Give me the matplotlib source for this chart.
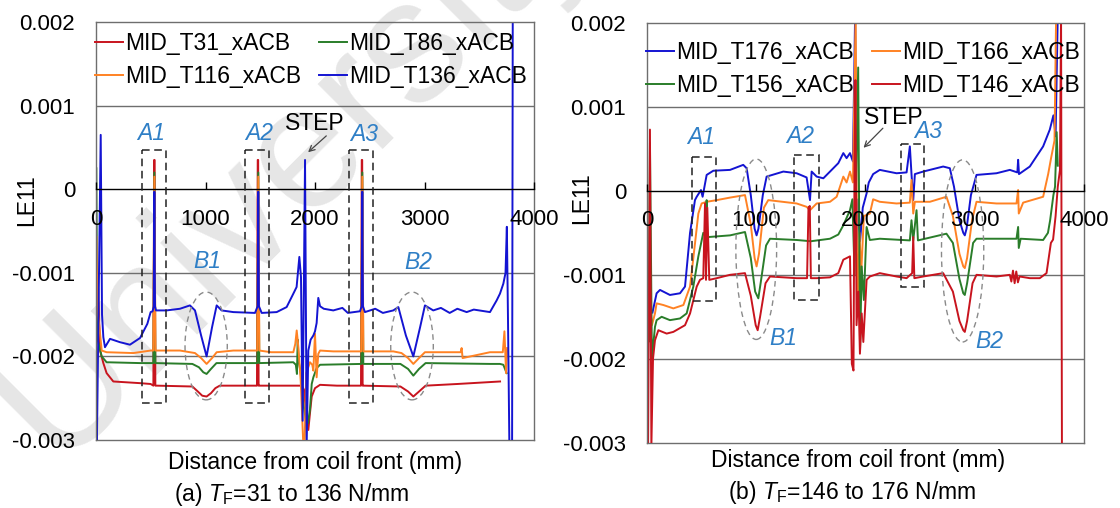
import numpy as np
import matplotlib
matplotlib.use("Agg")
import matplotlib.pyplot as plt
from matplotlib.patches import Rectangle, Ellipse

plt.rcParams['font.family'] = ['Liberation Sans', 'DejaVu Sans']
plt.rcParams['mathtext.fontset'] = 'custom'
plt.rcParams['mathtext.rm'] = 'Liberation Sans'
plt.rcParams['mathtext.it'] = 'Liberation Sans:italic'

MILLI = 1e-3  # strain values below are listed in units of 0.001

# ---------------- Panel (a) ----------------
a_t31_x = [20, 37, 67, 97, 158, 402, 499, 524, 531, 535, 542, 560, 880, 930, 970, 1010, 1050, 1090, 1130,
           1470, 1477, 1481, 1485, 1492, 1880, 1900, 1920, 1939, 1954, 1970, 2000, 2046, 2200,
           2420, 2427, 2431, 2435, 2442, 2780, 2850, 2898, 2950, 3010, 3300, 3690]
a_t31_y = [-1.2, -1.93, -2.08, -2.20, -2.30, -2.32, -2.33, -2.35, 0.35, 0.35, -2.35, -2.35, -2.36, -2.42, -2.47, -2.48, -2.44, -2.38, -2.35,
           -2.35, 0.35, 0.35, -2.35, -2.35, -2.35, -2.40, -2.70, -2.88, -2.68, -2.48, -2.38, -2.34, -2.35,
           -2.35, 0.35, 0.35, -2.35, -2.35, -2.36, -2.42, -2.48, -2.42, -2.35, -2.33, -2.30]

a_t86_x = [3, 8, 15, 52, 97, 402, 524, 533, 542, 880, 940, 980, 1010, 1050, 1100,
           1473, 1482, 1491, 1802, 1825, 1835, 1842, 1850, 1870, 1893, 1915, 1935, 1954, 1970, 1985, 2015, 2046,
           2423, 2432, 2441, 2780, 2850, 2898, 2950, 3010, 3600, 3689, 3720, 3750]
a_t86_y = [0.25, -1.0, -1.8, -2.00, -2.07, -2.08, -2.08, 0.20, -2.08, -2.09, -2.13, -2.19, -2.21, -2.15, -2.08,
           -2.08, 0.20, -2.08, -2.07, -2.10, -2.21, -1.80, -2.05, -2.20, -2.56, -2.75, -2.80, -2.64, -2.33, -2.25, -2.14, -2.10,
           -2.09, 0.20, -2.09, -2.09, -2.15, -2.23, -2.15, -2.08, -2.09, -2.09, -2.10, -2.20]

a_t116_x = [4, 8, 20, 52, 97, 341, 499, 523, 533, 543, 560, 767, 904, 960, 1010, 1060, 1102, 1254,
            1472, 1482, 1492, 1600, 1802, 1820, 1833, 1848, 1870, 1893, 1905, 1920, 1954, 1975, 1985, 2000, 2015, 2030, 2046,
            2167, 2422, 2432, 2442, 2715, 2790, 2850, 2898, 2950, 3004, 3330, 3339, 3348, 3598, 3715, 3730, 3745, 3755]
a_t116_y = [-0.57, -0.97, -1.5, -1.93, -1.95, -1.96, -1.93, -1.93, 0.15, -1.93, -1.93, -1.93, -1.96, -2.02, -2.09, -2.02, -1.95, -1.93,
            -1.93, 0.15, -1.93, -1.95, -1.95, -1.85, -1.69, -1.89, -2.30, -3.05, -3.05, -2.20, -2.07, -2.10, -2.17, -1.73, -2.25, -1.97, -1.93,
            -1.94, -1.94, 0.15, -1.94, -1.94, -1.96, -2.02, -2.09, -2.02, -1.95, -1.95, -1.90, -2.02, -1.95, -1.95, -1.70, -2.20, -1.90]

a_t136_x = [3, 8, 43, 55, 67, 82, 128, 219, 310, 402, 469, 499, 517, 527, 533, 539, 548, 645, 767, 858, 904,
            960, 1010, 1060, 1102, 1147, 1254, 1452, 1476, 1482, 1488, 1513, 1650, 1741, 1802, 1832, 1857, 1872,
            1887, 1909, 1924, 1939, 1960, 1985, 2000, 2015, 2030, 2046, 2080, 2167, 2250, 2300, 2411, 2426, 2432, 2438, 2456,
            2550, 2620, 2715, 2761, 2830, 2898, 2960, 3004, 3080, 3150, 3230, 3300, 3385, 3450, 3598, 3659, 3689, 3720, 3740,
            3752, 3762, 3775, 3800, 3806]
a_t136_y = [-2.0, -3.05, 0.65, -1.50, -1.77, -1.89, -1.79, -1.83, -1.86, -1.78, -1.61, -1.47, -1.46, -1.40, -0.03, -1.40, -1.45, -1.45, -1.43, -1.39, -1.45,
            -1.75, -2.00, -1.65, -1.39, -1.45, -1.47, -1.48, -1.40, -0.03, -1.40, -1.48, -1.47, -1.41, -1.25, -1.17, -0.81, -1.05,
            -2.77, 0.35, -3.05, -1.93, -1.80, -1.75, -1.70, -1.60, -1.30, -1.40, -1.43, -1.45, -1.42, -1.48, -1.46, -1.40, -0.03, -1.40, -1.47,
            -1.43, -1.48, -1.45, -1.41, -1.75, -2.00, -1.65, -1.39, -1.45, -1.42, -1.48, -1.43, -1.47, -1.44, -1.47, -1.33, -1.25, -1.13, -1.00,
            -0.45, -1.50, -3.05, -3.05, 2.10]

# ---------------- Panel (b) ----------------
b_t176_x = [50, 88, 119, 210, 302, 348, 394, 439, 455, 494, 509, 546, 607, 760, 881, 912, 950, 985, 1003, 1020, 1060, 1095,
            1248, 1370, 1461, 1492, 1507, 1553, 1614, 1675, 1751, 1797, 1827, 1858, 1885, 1905, 1918, 1935, 1950, 1975,
            2010, 2030, 2070, 2131, 2284, 2376, 2406, 2421, 2437, 2452, 2528, 2711, 2772, 2810, 2860, 2895, 2909, 2925,
            2965, 3016, 3199, 3321, 3390, 3397, 3405, 3504, 3626, 3687, 3720, 3740, 3760]
b_t176_y = [-1.45, -1.22, -1.18, -1.24, -1.22, -1.14, -0.50, -0.11, -0.07, 0.01, -0.07, 0.19, 0.24, 0.25, 0.31, 0.27, -0.05, -0.45, -0.53, -0.45, -0.05, 0.17,
            0.23, 0.21, 0.16, -0.11, 0.23, 0.17, 0.15, 0.23, 0.33, 0.45, 0.39, 0.45, 0.35, 2.10, -0.70, -0.10, -0.60, -0.20,
            -0.03, 0.10, 0.20, 0.25, 0.21, 0.22, 0.53, 0.20, -0.11, 0.20, 0.23, 0.29, 0.27, 0.05, -0.35, -0.50, -0.53, -0.45,
            -0.05, 0.19, 0.21, 0.25, 0.22, 0.37, 0.20, 0.29, 0.53, 0.73, 0.90, 0.65, 2.10]

b_t166_x = [5, 20, 45, 73, 88, 150, 241, 333, 394, 439, 470, 500, 546, 638, 760, 897, 950, 985, 1003, 1025, 1070, 1110,
            1370, 1461, 1492, 1553, 1675, 1736, 1797, 1827, 1858, 1885, 1910, 1925, 1945, 1960, 1985, 2040, 2070, 2131,
            2284, 2406, 2421, 2437, 2452, 2589, 2741, 2800, 2860, 2895, 2909, 2930, 2975, 3016, 3199, 3382, 3397, 3403,
            3443, 3626, 3672, 3700, 3730, 3745]
b_t166_y = [-0.90, -1.30, -1.60, -1.46, -1.34, -1.36, -1.40, -1.36, -1.14, -0.63, -0.27, -0.15, -0.13, -0.11, -0.08, -0.05, -0.40, -0.80, -0.90, -0.75, -0.20, -0.11,
            -0.15, -0.19, -0.23, -0.15, -0.13, -0.07, 0.17, 0.10, 0.23, 0.10, 2.10, -1.50, -0.50, -1.00, -0.30, -0.27, -0.10, -0.13,
            -0.15, -0.14, 0.13, -0.27, -0.13, -0.13, -0.07, -0.30, -0.75, -0.90, -0.92, -0.80, -0.35, -0.13, -0.15, -0.15, 0.01, -0.27,
            -0.14, -0.07, 0.20, 0.40, 0.60, 2.10]

b_t156_x = [5, 15, 27, 45, 73, 88, 134, 210, 302, 363, 424, 470, 515, 541, 546, 551, 561, 760, 897, 950, 990, 1019, 1040, 1090, 1126,
            1370, 1500, 1675, 1751, 1797, 1858, 1880, 1900, 1933, 1950, 1965, 1985, 2010, 2040, 2131,
            2406, 2421, 2437, 2467, 2480, 2741, 2800, 2860, 2895, 2909, 2930, 2985, 3016, 3382, 3397, 3403, 3420,
            3626, 3670, 3690, 3720, 3735, 3750, 3760]
b_t156_y = [-1.00, -1.80, 0.57, -2.00, -1.62, -1.54, -1.50, -1.54, -1.52, -1.46, -1.14, -0.78, -0.50, -0.55, -0.11, -0.55, -0.55, -0.53, -0.49, -0.80, -1.20, -1.28, -1.10, -0.65, -0.57,
            -0.585, -0.60, -0.57, -0.52, -0.41, -0.23, -0.10, -1.00, 1.47, -1.90, -0.90, -1.30, -0.43, -0.585, -0.57,
            -0.59, -0.35, -0.59, -0.23, -0.59, -0.51, -0.62, -1.05, -1.22, -1.24, -1.10, -0.62, -0.57, -0.57, -0.43, -0.68, -0.57,
            -0.585, -0.50, -0.35, -0.05, 0.05, 0.70, 0.30]

b_t146_x = [10, 27, 40, 55, 73, 104, 180, 241, 348, 394, 455, 485, 515, 531, 540, 552, 570, 638, 760, 897, 950, 995, 1013, 1035, 1085, 1126,
            1370, 1465, 1478, 1490, 1500, 1553, 1675, 1751, 1797, 1858, 1875, 1890, 1900, 1908, 1918, 1935, 1949, 1965, 1980, 2010, 2040, 2131,
            2284, 2376, 2427, 2437, 2447, 2528, 2711, 2800, 2860, 2895, 2909, 2930, 2980, 3016, 3199, 3321, 3335, 3350, 3365, 3380, 3395, 3410,
            3504, 3595, 3657, 3697, 3717, 3740, 3760, 3780, 3790, 3798]
b_t146_y = [-3.05, 0.73, -3.05, -2.00, -1.78, -1.66, -1.70, -1.68, -1.60, -1.46, -1.14, -1.06, -1.04, -0.15, -1.06, -0.20, -1.06, -1.04, -1.00, -0.98, -1.25, -1.60, -1.66, -1.50, -1.10, -1.02,
            -1.04, -1.04, -0.20, -0.18, -1.04, -1.04, -1.03, -0.98, -0.82, -0.78, -2.06, -2.14, 0.40, 1.32, -1.60, -1.20, -1.94, -1.46, -1.80, -1.06, -1.02, -0.98,
            -1.02, -1.04, -0.98, -0.55, -1.04, -1.02, -0.98, -1.20, -1.55, -1.66, -1.68, -1.55, -1.10, -1.00, -1.02, -1.00, -1.08, -0.95, -1.10, -0.96, -1.09, -1.02,
            -1.04, -1.04, -0.98, -0.62, -0.58, -0.30, 0.05, 0.25, 2.10, -3.05]

# tick labels
y_ticks = [-3, -2, -1, 0, 1, 2]
y_tick_labels = ['-0.003', '-0.002', '-0.001', '0', '0.001', '0.002']
x_ticks = [0, 1000, 2000, 3000, 4000]
x_tick_labels = ['0', '1000', '2000', '3000', '4000']

RED, GREEN, ORANGE, BLUE = '#c8141e', '#2a7d2a', '#ff8224', '#1414d2'
ANN = '#2f7fc6'
FS = 16.5

W, H = 1120, 508
fig = plt.figure(figsize=(W / 100, H / 100), dpi=100)
fig.patch.set_facecolor('white')

# watermark (behind everything)
fig.text(55 / W, 1 - 464 / H, 'University', rotation=45, rotation_mode='anchor',
         ha='left', va='baseline', fontsize=126, color='#e6e6e6', zorder=-5)


def setup(ax):
    ax.set_facecolor('none')
    ax.set_xlim(0, 4000)
    ax.set_ylim(-3 * MILLI, 2 * MILLI)
    for g in (1, -1, -2):
        ax.axhline(g * MILLI, color='#6e6e6e', lw=1.0, zorder=1)
    for s in ('top', 'left', 'right'):
        ax.spines[s].set_color('#6e6e6e')
        ax.spines[s].set_linewidth(1.0)
    ax.spines['bottom'].set_position(('data', 0))
    ax.spines['bottom'].set_color('black')
    ax.spines['bottom'].set_linewidth(1.0)
    ax.plot([0, 1], [0, 0], transform=ax.transAxes, color='#6e6e6e', lw=1.0, clip_on=False)
    ax.set_yticks([v * MILLI for v in y_ticks])
    ax.set_yticklabels(y_tick_labels)
    ax.set_xticks(x_ticks)
    ax.set_xticklabels(x_tick_labels)
    ax.tick_params(axis='y', length=0, pad=15, labelsize=16)
    ax.tick_params(axis='x', direction='in', length=5, width=1, pad=14, labelsize=16)
    ax.set_axisbelow(False)


def series(ax, xs, ys, color, label):
    return ax.plot(xs, np.asarray(ys) * MILLI, color=color, lw=1.4, label=label, zorder=2)[0]


def ann(ax, boxes, ellipses, texts, step_text, step_arrow):
    for (x0, x1, y0, y1) in boxes:
        ax.add_patch(Rectangle((x0, y0 * MILLI), x1 - x0, (y1 - y0) * MILLI, fill=False,
                               ec='#222222', lw=1.1, ls=(0, (5, 3)), zorder=3))
    for (cx, cy, w, h) in ellipses:
        ax.add_patch(Ellipse((cx, cy * MILLI), w, h * MILLI, fill=False,
                             ec='#8a8a8a', lw=1.0, ls=(0, (4, 3)), zorder=3))
    for (tx, ty, t) in texts:
        ax.text(tx, ty * MILLI, t, color=ANN, fontsize=FS, style='italic', ha='center', va='center', zorder=4)
    sx, sy = step_text
    ax.text(sx, sy * MILLI, 'STEP', fontsize=FS, ha='center', va='center', zorder=4)
    (ax0, ay0), (ax1, ay1) = step_arrow
    ax.annotate('', xy=(ax1, ay1 * MILLI), xytext=(ax0, ay0 * MILLI),
                arrowprops=dict(arrowstyle='->', color='#444444', lw=0.9), zorder=4)


LEG = dict(ncol=2, loc='upper left', frameon=False, fontsize=FS, handlelength=1.2,
           handletextpad=0.1, columnspacing=0.8, labelspacing=0.45, borderpad=0.0, borderaxespad=0.0)

# ---- panel a
axa = fig.add_axes([96 / W, (H - 440) / H, (534 - 96) / W, (440 - 22) / H])
setup(axa)
l31 = series(axa, a_t31_x, a_t31_y, RED, 'MID_T31_xACB')
l86 = series(axa, a_t86_x, a_t86_y, GREEN, 'MID_T86_xACB')
l116 = series(axa, a_t116_x, a_t116_y, ORANGE, 'MID_T116_xACB')
l136 = series(axa, a_t136_x, a_t136_y, BLUE, 'MID_T136_xACB')
ann(axa,
    boxes=[(417, 639, 0.467, -2.56), (1361, 1580, 0.467, -2.56), (2310, 2526, 0.467, -2.56)],
    ellipses=[(1006, -1.875, 386, 1.29), (2886, -1.875, 389, 1.29)],
    texts=[(499, 0.67, 'A1'), (1491, 0.67, 'A2'), (2447, 0.66, 'A3'), (1017, -0.87, 'B1'), (2944, -0.88, 'B2')],
    step_text=(1994, 0.79), step_arrow=((2122, 0.66), (1918, 0.42)))
axa.legend(handles=[l31, l116, l86, l136], bbox_to_anchor=(-0.002, 1 - 10 / 418), **LEG)

# ---- panel b
axb = fig.add_axes([647 / W, (H - 442.7) / H, (1084 - 647) / W, (442.7 - 23) / H])
setup(axb)
m176 = series(axb, b_t176_x, b_t176_y, BLUE, 'MID_T176_xACB')
m166 = series(axb, b_t166_x, b_t166_y, ORANGE, 'MID_T166_xACB')
m156 = series(axb, b_t156_x, b_t156_y, GREEN, 'MID_T156_xACB')
m146 = series(axb, b_t146_x, b_t146_y, RED, 'MID_T146_xACB')
ann(axb,
    boxes=[(409, 628, 0.40, -1.31), (1345, 1577, 0.43, -1.30), (2321, 2537, 0.56, -1.14)],
    ellipses=[(1000, -0.695, 373, 2.15), (2889, -0.715, 387, 2.17)],
    texts=[(491, 0.63, 'A1'), (1400, 0.65, 'A2'), (2574, 0.71, 'A3'), (1248, -1.76, 'B1'), (3132, -1.80, 'B2')],
    step_text=(2261, 0.87), step_arrow=((2177, 0.77), (1964, 0.49)))
axb.legend(handles=[m176, m156, m166, m146], bbox_to_anchor=(-0.002, 1 - 18 / 420), **LEG)

# axis titles and captions
fig.text(27 / W, 1 - 200 / H, 'LE11', rotation=90, fontsize=FS, ha='center', va='center')
fig.text(582 / W, 1 - 198 / H, 'LE11', rotation=90, fontsize=FS, ha='center', va='center')
fig.text(315 / W, 1 - 462 / H, 'Distance from coil front (mm)', fontsize=FS, ha='center', va='center')
fig.text(858 / W, 1 - 460 / H, 'Distance from coil front (mm)', fontsize=FS, ha='center', va='center')
fig.text(292 / W, 1 - 495 / H, r'(a) $T_{\mathrm{F}}$=31 to 136 N/mm', fontsize=FS, ha='center', va='center')
fig.text(852 / W, 1 - 493 / H, r'(b) $T_{\mathrm{F}}$=146 to 176 N/mm', fontsize=FS, ha='center', va='center')

fig.savefig('out.png', dpi=100)
